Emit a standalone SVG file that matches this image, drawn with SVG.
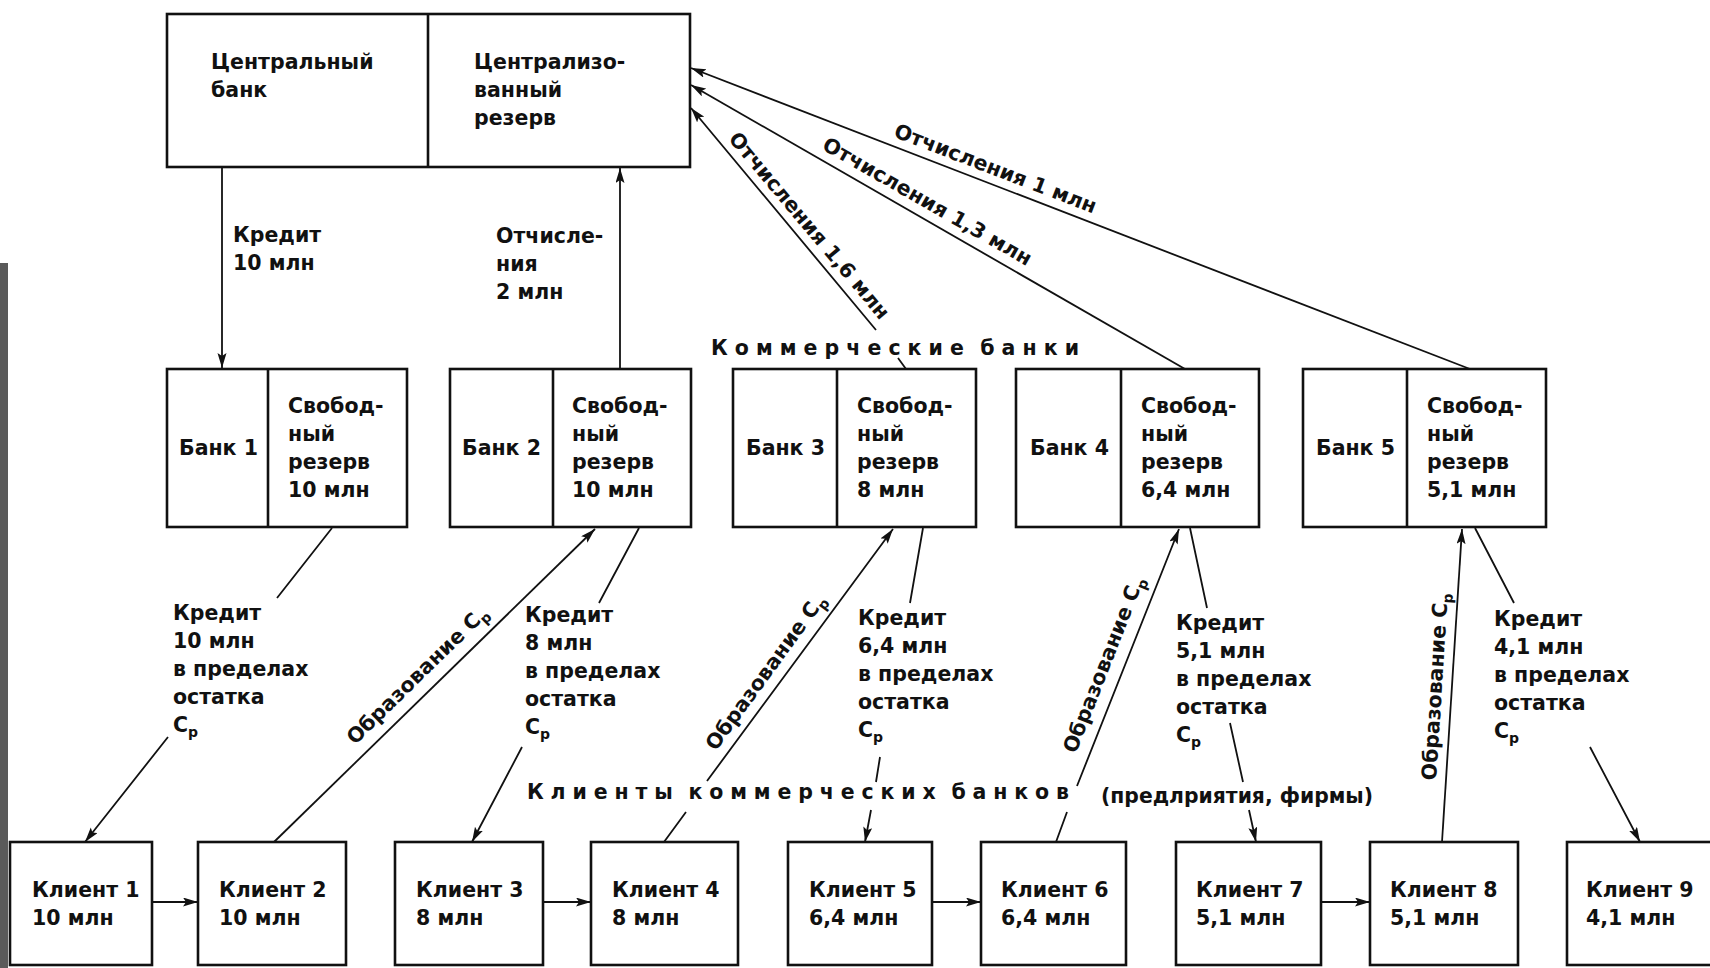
<svg xmlns="http://www.w3.org/2000/svg" width="1710" height="968" viewBox="0 0 1710 968">
<style>
.box{fill:none;stroke:#111;stroke-width:2.6}
.ln{fill:none;stroke:#111;stroke-width:1.8}
.t{font-family:"DejaVu Sans","Liberation Sans",sans-serif;font-size:20.5px;font-weight:bold;fill:#111}
.sub{font-size:14px}
.sp{word-spacing:-5px}
</style>
<defs>
<marker id="ah" markerUnits="userSpaceOnUse" markerWidth="18" markerHeight="10" refX="15" refY="4.5" orient="auto">
<path d="M0,0 L15,4.5 L0,9 L3,4.5 z" fill="#111"/>
</marker>
</defs>
<rect x="0" y="0" width="1710" height="968" fill="#fff"/>
<rect x="0" y="263" width="8" height="705" fill="#5a5a5a"/>

<g id="central-bank">
<rect class="box" x="167" y="14" width="523" height="153"/>
<line class="box" x1="428" y1="14" x2="428" y2="167"/>
<text class="t"><tspan x="211" y="69">Центральный</tspan><tspan x="211" y="97">банк</tspan></text>
<text class="t"><tspan x="474" y="69">Централизо-</tspan><tspan x="474" y="97">ванный</tspan><tspan x="474" y="125">резерв</tspan></text>
</g>

<g id="bank1">
<rect class="box" x="167" y="369" width="240" height="158"/>
<line class="box" x1="268" y1="369" x2="268" y2="527"/>
<text class="t" x="179" y="455">Банк 1</text>
<text class="t"><tspan x="288" y="413">Свобод-</tspan><tspan x="288" y="441">ный</tspan><tspan x="288" y="469">резерв</tspan><tspan x="288" y="497">10 млн</tspan></text>
</g>
<g id="bank2">
<rect class="box" x="450" y="369" width="241" height="158"/>
<line class="box" x1="553" y1="369" x2="553" y2="527"/>
<text class="t" x="462" y="455">Банк 2</text>
<text class="t"><tspan x="572" y="413">Свобод-</tspan><tspan x="572" y="441">ный</tspan><tspan x="572" y="469">резерв</tspan><tspan x="572" y="497">10 млн</tspan></text>
</g>
<g id="bank3">
<rect class="box" x="733" y="369" width="243" height="158"/>
<line class="box" x1="837" y1="369" x2="837" y2="527"/>
<text class="t" x="746" y="455">Банк 3</text>
<text class="t"><tspan x="857" y="413">Свобод-</tspan><tspan x="857" y="441">ный</tspan><tspan x="857" y="469">резерв</tspan><tspan x="857" y="497">8 млн</tspan></text>
</g>
<g id="bank4">
<rect class="box" x="1016" y="369" width="243" height="158"/>
<line class="box" x1="1121" y1="369" x2="1121" y2="527"/>
<text class="t" x="1030" y="455">Банк 4</text>
<text class="t"><tspan x="1141" y="413">Свобод-</tspan><tspan x="1141" y="441">ный</tspan><tspan x="1141" y="469">резерв</tspan><tspan x="1141" y="497">6,4 млн</tspan></text>
</g>
<g id="bank5">
<rect class="box" x="1303" y="369" width="243" height="158"/>
<line class="box" x1="1407" y1="369" x2="1407" y2="527"/>
<text class="t" x="1316" y="455">Банк 5</text>
<text class="t"><tspan x="1427" y="413">Свобод-</tspan><tspan x="1427" y="441">ный</tspan><tspan x="1427" y="469">резерв</tspan><tspan x="1427" y="497">5,1 млн</tspan></text>
</g>

<g id="client1"><rect class="box" x="10" y="842" width="142" height="123"/><text class="t"><tspan x="32" y="897">Клиент 1</tspan><tspan x="32" y="925">10 млн</tspan></text></g>
<g id="client2"><rect class="box" x="198" y="842" width="148" height="123"/><text class="t"><tspan x="219" y="897">Клиент 2</tspan><tspan x="219" y="925">10 млн</tspan></text></g>
<g id="client3"><rect class="box" x="395" y="842" width="148" height="123"/><text class="t"><tspan x="416" y="897">Клиент 3</tspan><tspan x="416" y="925">8 млн</tspan></text></g>
<g id="client4"><rect class="box" x="591" y="842" width="147" height="123"/><text class="t"><tspan x="612" y="897">Клиент 4</tspan><tspan x="612" y="925">8 млн</tspan></text></g>
<g id="client5"><rect class="box" x="788" y="842" width="144" height="123"/><text class="t"><tspan x="809" y="897">Клиент 5</tspan><tspan x="809" y="925">6,4 млн</tspan></text></g>
<g id="client6"><rect class="box" x="981" y="842" width="145" height="123"/><text class="t"><tspan x="1001" y="897">Клиент 6</tspan><tspan x="1001" y="925">6,4 млн</tspan></text></g>
<g id="client7"><rect class="box" x="1176" y="842" width="145" height="123"/><text class="t"><tspan x="1196" y="897">Клиент 7</tspan><tspan x="1196" y="925">5,1 млн</tspan></text></g>
<g id="client8"><rect class="box" x="1370" y="842" width="148" height="123"/><text class="t"><tspan x="1390" y="897">Клиент 8</tspan><tspan x="1390" y="925">5,1 млн</tspan></text></g>
<g id="client9"><rect class="box" x="1567" y="842" width="150" height="123"/><text class="t"><tspan x="1586" y="897">Клиент 9</tspan><tspan x="1586" y="925">4,1 млн</tspan></text></g>

<g id="connectors">
<path class="ln" d="M222,167 L222,368" marker-end="url(#ah)"/>
<path class="ln" d="M620,368 L620,168" marker-end="url(#ah)"/>
<path class="ln" d="M906,369 L898,358 M876,330 L691,108" marker-end="url(#ah)"/>
<path class="ln" d="M1185,369 L691,85" marker-end="url(#ah)"/>
<path class="ln" d="M1470,369 L691,68" marker-end="url(#ah)"/>
<path class="ln" d="M332,528 L277,598 M168,737 L85,842" marker-end="url(#ah)"/>
<path class="ln" d="M274,842 L595,529" marker-end="url(#ah)"/>
<path class="ln" d="M639,528 L599,603 M522,747 L472,842" marker-end="url(#ah)"/>
<path class="ln" d="M664,842 L686,812 M707,781 L893,529" marker-end="url(#ah)"/>
<path class="ln" d="M923,528 L910,603 M880,757 L876,782 M871,810 L865,842" marker-end="url(#ah)"/>
<path class="ln" d="M1056,842 L1067,812 M1077,786 L1179,529" marker-end="url(#ah)"/>
<path class="ln" d="M1190,528 L1207,608 M1230,723 L1243,782 M1249,810 L1256,842" marker-end="url(#ah)"/>
<path class="ln" d="M1442,842 L1462,529" marker-end="url(#ah)"/>
<path class="ln" d="M1475,528 L1514,603 M1590,747 L1640,842" marker-end="url(#ah)"/>
<path class="ln" d="M152,902 L198,902" marker-end="url(#ah)"/>
<path class="ln" d="M543,902 L591,902" marker-end="url(#ah)"/>
<path class="ln" d="M932,902 L981,902" marker-end="url(#ah)"/>
<path class="ln" d="M1321,902 L1370,902" marker-end="url(#ah)"/>
</g>

<g id="labels">
<text class="t"><tspan x="233" y="242">Кредит</tspan><tspan x="233" y="270">10 млн</tspan></text>
<text class="t"><tspan x="496" y="243">Отчисле-</tspan><tspan x="496" y="271">ния</tspan><tspan x="496" y="299">2 млн</tspan></text>
<text class="t" text-anchor="middle" transform="translate(993,175) rotate(21.06)">Отчисления 1 млн</text>
<text class="t" text-anchor="middle" transform="translate(924,207.5) rotate(29.76)">Отчисления 1,3 млн</text>
<text class="t" text-anchor="middle" transform="translate(804,230) rotate(50)">Отчисления 1,6 млн</text>
<text class="t sp" x="711" y="355" textLength="368" lengthAdjust="spacing">Коммерческие банки</text>
<text class="t sp" x="527" y="799" textLength="542" lengthAdjust="spacing">Клиенты коммерческих банков</text>
<text class="t" x="1101" y="803" textLength="272" lengthAdjust="spacingAndGlyphs">(предлриятия, фирмы)</text>

<text class="t"><tspan x="173" y="620">Кредит</tspan><tspan x="173" y="648">10 млн</tspan><tspan x="173" y="676">в пределах</tspan><tspan x="173" y="704">остатка</tspan><tspan x="173" y="732">С</tspan><tspan class="sub" dy="5">р</tspan></text>
<text class="t"><tspan x="525" y="622">Кредит</tspan><tspan x="525" y="650">8 млн</tspan><tspan x="525" y="678">в пределах</tspan><tspan x="525" y="706">остатка</tspan><tspan x="525" y="734">С</tspan><tspan class="sub" dy="5">р</tspan></text>
<text class="t"><tspan x="858" y="625">Кредит</tspan><tspan x="858" y="653">6,4 млн</tspan><tspan x="858" y="681">в пределах</tspan><tspan x="858" y="709">остатка</tspan><tspan x="858" y="737">С</tspan><tspan class="sub" dy="5">р</tspan></text>
<text class="t"><tspan x="1176" y="630">Кредит</tspan><tspan x="1176" y="658">5,1 млн</tspan><tspan x="1176" y="686">в пределах</tspan><tspan x="1176" y="714">остатка</tspan><tspan x="1176" y="742">С</tspan><tspan class="sub" dy="5">р</tspan></text>
<text class="t"><tspan x="1494" y="626">Кредит</tspan><tspan x="1494" y="654">4,1 млн</tspan><tspan x="1494" y="682">в пределах</tspan><tspan x="1494" y="710">остатка</tspan><tspan x="1494" y="738">С</tspan><tspan class="sub" dy="5">р</tspan></text>

<text class="t" text-anchor="middle" transform="translate(422,680) rotate(-44.36)">Образование С<tspan class="sub" dy="5">р</tspan></text>
<text class="t" text-anchor="middle" transform="translate(771,676) rotate(-53.9)">Образование С<tspan class="sub" dy="5">р</tspan></text>
<text class="t" text-anchor="middle" transform="translate(1110,667) rotate(-68.6)">Образование С<tspan class="sub" dy="5">р</tspan></text>
<text class="t" text-anchor="middle" transform="translate(1442,687) rotate(-86.4)">Образование С<tspan class="sub" dy="5">р</tspan></text>
</g>
</svg>
